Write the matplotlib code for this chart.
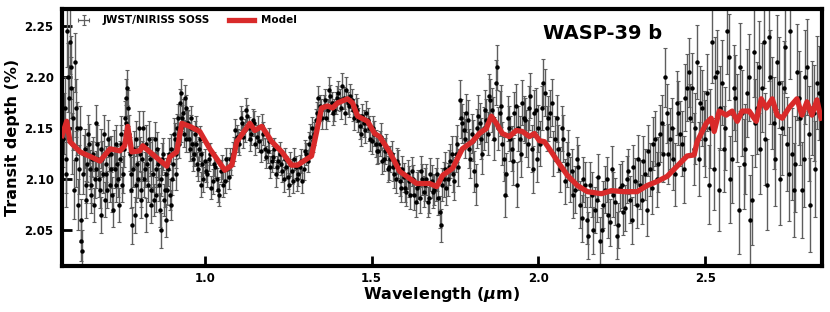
import matplotlib.pyplot as plt
import numpy as np

wl_blue = [0.575, 0.580, 0.585, 0.590, 0.595, 0.600, 0.605, 0.610, 0.615, 0.620,
           0.625, 0.630, 0.635, 0.640, 0.645, 0.650, 0.655, 0.660, 0.665, 0.670,
           0.675, 0.680, 0.685, 0.690, 0.695, 0.700, 0.705, 0.710, 0.715, 0.720,
           0.725, 0.730, 0.735, 0.740, 0.745, 0.750, 0.755, 0.760, 0.765, 0.770,
           0.775, 0.780, 0.785, 0.790, 0.795, 0.800, 0.805, 0.810, 0.815, 0.820,
           0.825, 0.830, 0.835, 0.840, 0.845, 0.850, 0.855, 0.860, 0.865, 0.870,
           0.875, 0.880, 0.885, 0.890, 0.895, 0.900, 0.905, 0.910, 0.915, 0.920,
           0.925, 0.930, 0.935, 0.940, 0.945, 0.950, 0.955, 0.960, 0.965, 0.970,
           0.975, 0.980, 0.985, 0.990, 0.995]
depth_blue = [2.140, 2.170, 2.105, 2.200, 2.235, 2.190, 2.160, 2.215, 2.120, 2.075,
              2.150, 2.040, 2.105, 2.130, 2.095, 2.145, 2.110, 2.085, 2.125, 2.100,
              2.155, 2.120, 2.090, 2.130, 2.105, 2.080, 2.115, 2.140, 2.095, 2.125,
              2.070, 2.110, 2.135, 2.100, 2.120, 2.145, 2.105, 2.160, 2.180, 2.170,
              2.125, 2.090, 2.110, 2.065, 2.140, 2.100, 2.125, 2.080, 2.150, 2.110,
              2.135, 2.095, 2.120, 2.075, 2.105, 2.140, 2.085, 2.115, 2.070, 2.100,
              2.125, 2.090, 2.060, 2.110, 2.085, 2.130, 2.115, 2.140, 2.105, 2.160,
              2.175, 2.150, 2.165, 2.180, 2.140, 2.155, 2.130, 2.150, 2.120, 2.145,
              2.135, 2.110, 2.140, 2.125, 2.100]
err_blue = [0.028, 0.030, 0.032, 0.034, 0.032, 0.030, 0.031, 0.029, 0.027, 0.025,
            0.022, 0.020, 0.019, 0.019, 0.018, 0.018, 0.019, 0.018, 0.017, 0.018,
            0.018, 0.017, 0.018, 0.019, 0.018, 0.017, 0.018, 0.018, 0.017, 0.018,
            0.017, 0.018, 0.018, 0.017, 0.018, 0.017, 0.018, 0.017, 0.018, 0.018,
            0.017, 0.018, 0.017, 0.018, 0.017, 0.018, 0.017, 0.018, 0.017, 0.017,
            0.018, 0.017, 0.017, 0.018, 0.017, 0.016, 0.017, 0.016, 0.017, 0.016,
            0.016, 0.017, 0.016, 0.016, 0.015, 0.015, 0.016, 0.015, 0.015, 0.014,
            0.014, 0.013, 0.014, 0.013, 0.013, 0.013, 0.012, 0.013, 0.012, 0.012,
            0.012, 0.012, 0.012, 0.012, 0.012]

wl_blue2 = [0.5775, 0.5825, 0.5875, 0.5925, 0.5975, 0.6025, 0.6075, 0.6125, 0.6175, 0.6225,
            0.6275, 0.6325, 0.6375, 0.6425, 0.6475, 0.6525, 0.6575, 0.6625, 0.6675, 0.6725,
            0.6775, 0.6825, 0.6875, 0.6925, 0.6975, 0.7025, 0.7075, 0.7125, 0.7175, 0.7225,
            0.7275, 0.7325, 0.7375, 0.7425, 0.7475, 0.7525, 0.7575, 0.7625, 0.7675, 0.7725,
            0.7775, 0.7825, 0.7875, 0.7925, 0.7975, 0.8025, 0.8075, 0.8125, 0.8175, 0.8225,
            0.8275, 0.8325, 0.8375, 0.8425, 0.8475, 0.8525, 0.8575, 0.8625, 0.8675, 0.8725,
            0.8775, 0.8825, 0.8875, 0.8925, 0.8975, 0.9025, 0.9075, 0.9125, 0.9175, 0.9225,
            0.9275, 0.9325, 0.9375, 0.9425, 0.9475, 0.9525, 0.9575, 0.9625, 0.9675, 0.9725,
            0.9775, 0.9825, 0.9875, 0.9925]
depth_blue2 = [2.155, 2.120, 2.245, 2.180, 2.210, 2.135, 2.090, 2.170, 2.150, 2.110,
               2.060, 2.030, 2.125, 2.080, 2.115, 2.135, 2.095, 2.120, 2.075, 2.110,
               2.135, 2.100, 2.065, 2.120, 2.145, 2.105, 2.090, 2.125, 2.110, 2.085,
               2.130, 2.095, 2.115, 2.075, 2.135, 2.095, 2.130, 2.155, 2.190, 2.145,
               2.105, 2.055, 2.130, 2.095, 2.115, 2.150, 2.090, 2.120, 2.100, 2.065,
               2.115, 2.140, 2.090, 2.125, 2.080, 2.110, 2.130, 2.095, 2.050, 2.120,
               2.080, 2.105, 2.090, 2.125, 2.075, 2.100, 2.145, 2.125, 2.150, 2.135,
               2.185, 2.160, 2.145, 2.170, 2.155, 2.140, 2.160, 2.135, 2.125, 2.150,
               2.115, 2.130, 2.095, 2.115]
err_blue2 = [0.030, 0.033, 0.035, 0.032, 0.031, 0.030, 0.029, 0.028, 0.026, 0.024,
             0.021, 0.020, 0.019, 0.018, 0.018, 0.019, 0.018, 0.018, 0.017, 0.018,
             0.018, 0.017, 0.018, 0.018, 0.018, 0.017, 0.018, 0.017, 0.018, 0.017,
             0.018, 0.017, 0.018, 0.017, 0.018, 0.017, 0.018, 0.018, 0.017, 0.018,
             0.017, 0.018, 0.017, 0.017, 0.018, 0.017, 0.017, 0.018, 0.017, 0.017,
             0.017, 0.017, 0.016, 0.017, 0.016, 0.017, 0.016, 0.016, 0.017, 0.016,
             0.016, 0.016, 0.015, 0.016, 0.015, 0.015, 0.015, 0.014, 0.014, 0.014,
             0.013, 0.013, 0.013, 0.013, 0.012, 0.013, 0.012, 0.012, 0.012, 0.012,
             0.012, 0.012, 0.012, 0.012]

wl_mid = [1.000, 1.008, 1.016, 1.024, 1.032, 1.040, 1.048, 1.056, 1.064, 1.072,
          1.080, 1.088, 1.096, 1.104, 1.112, 1.120, 1.128, 1.136, 1.144, 1.152,
          1.160, 1.168, 1.176, 1.184, 1.192, 1.200, 1.208, 1.216, 1.224, 1.232,
          1.240, 1.248, 1.256, 1.264, 1.272, 1.280, 1.288, 1.296, 1.304, 1.312,
          1.320, 1.328, 1.336, 1.344, 1.352, 1.360, 1.368, 1.376, 1.384, 1.392,
          1.400, 1.408, 1.416, 1.424, 1.432, 1.440, 1.448, 1.456, 1.464, 1.472,
          1.480, 1.488, 1.496, 1.504, 1.512, 1.520, 1.528, 1.536, 1.544, 1.552,
          1.560, 1.568, 1.576, 1.584, 1.592, 1.600, 1.608, 1.616, 1.624, 1.632,
          1.640, 1.648, 1.656, 1.664, 1.672, 1.680, 1.688, 1.696, 1.704, 1.712,
          1.720, 1.728, 1.736, 1.744, 1.752, 1.760, 1.768, 1.776, 1.784, 1.792,
          1.800, 1.808, 1.816, 1.824, 1.832, 1.840, 1.848, 1.856, 1.864, 1.872,
          1.880, 1.888, 1.896, 1.904, 1.912, 1.920, 1.928, 1.936, 1.944, 1.952,
          1.960, 1.968, 1.976, 1.984, 1.992]
depth_mid = [2.118, 2.105, 2.125, 2.098, 2.112, 2.090, 2.108, 2.095, 2.120, 2.102,
             2.115, 2.130, 2.142, 2.135, 2.155, 2.148, 2.162, 2.140, 2.158, 2.135,
             2.150, 2.128, 2.145, 2.122, 2.138, 2.118, 2.130, 2.112, 2.125, 2.108,
             2.120, 2.102, 2.115, 2.098, 2.112, 2.105, 2.118, 2.110, 2.125, 2.135,
             2.150, 2.145, 2.165, 2.172, 2.160, 2.178, 2.168, 2.182, 2.165, 2.175,
             2.185, 2.170, 2.180, 2.188, 2.172, 2.178, 2.160, 2.168, 2.152, 2.162,
             2.148, 2.158, 2.140, 2.150, 2.135, 2.128, 2.142, 2.120, 2.132, 2.112,
             2.125, 2.105, 2.118, 2.098, 2.110, 2.092, 2.105, 2.085, 2.100, 2.078,
             2.095, 2.108, 2.088, 2.100, 2.082, 2.098, 2.090, 2.105, 2.068, 2.095,
             2.110, 2.100, 2.118, 2.105, 2.125, 2.112, 2.160, 2.148, 2.165, 2.130,
             2.145, 2.108, 2.150, 2.155, 2.125, 2.168, 2.145, 2.178, 2.160, 2.195,
             2.150, 2.172, 2.120, 2.105, 2.150, 2.130, 2.165, 2.095, 2.140, 2.175,
             2.158, 2.135, 2.182, 2.110, 2.168]
err_mid = [0.012, 0.012, 0.011, 0.012, 0.011, 0.012, 0.011, 0.012, 0.011, 0.011,
           0.011, 0.012, 0.011, 0.011, 0.012, 0.011, 0.011, 0.012, 0.011, 0.011,
           0.012, 0.011, 0.011, 0.011, 0.012, 0.011, 0.011, 0.011, 0.012, 0.011,
           0.011, 0.011, 0.012, 0.011, 0.011, 0.011, 0.012, 0.011, 0.011, 0.011,
           0.011, 0.011, 0.011, 0.011, 0.011, 0.011, 0.011, 0.011, 0.012, 0.011,
           0.011, 0.011, 0.011, 0.012, 0.011, 0.011, 0.012, 0.012, 0.012, 0.012,
           0.012, 0.012, 0.012, 0.012, 0.013, 0.012, 0.013, 0.012, 0.013, 0.013,
           0.013, 0.013, 0.013, 0.014, 0.013, 0.014, 0.014, 0.014, 0.014, 0.015,
           0.014, 0.015, 0.015, 0.015, 0.015, 0.016, 0.015, 0.016, 0.016, 0.016,
           0.017, 0.016, 0.017, 0.017, 0.018, 0.018, 0.019, 0.018, 0.019, 0.019,
           0.019, 0.020, 0.019, 0.020, 0.020, 0.020, 0.021, 0.020, 0.021, 0.022,
           0.021, 0.021, 0.022, 0.021, 0.022, 0.022, 0.021, 0.022, 0.022, 0.022,
           0.022, 0.023, 0.022, 0.023, 0.022]

wl_mid2 = [1.004, 1.012, 1.020, 1.028, 1.036, 1.044, 1.052, 1.060, 1.068, 1.076,
           1.084, 1.092, 1.100, 1.108, 1.116, 1.124, 1.132, 1.140, 1.148, 1.156,
           1.164, 1.172, 1.180, 1.188, 1.196, 1.204, 1.212, 1.220, 1.228, 1.236,
           1.244, 1.252, 1.260, 1.268, 1.276, 1.284, 1.292, 1.300, 1.308, 1.316,
           1.324, 1.332, 1.340, 1.348, 1.356, 1.364, 1.372, 1.380, 1.388, 1.396,
           1.404, 1.412, 1.420, 1.428, 1.436, 1.444, 1.452, 1.460, 1.468, 1.476,
           1.484, 1.492, 1.500, 1.508, 1.516, 1.524, 1.532, 1.540, 1.548, 1.556,
           1.564, 1.572, 1.580, 1.588, 1.596, 1.604, 1.612, 1.620, 1.628, 1.636,
           1.644, 1.652, 1.660, 1.668, 1.676, 1.684, 1.692, 1.700, 1.708, 1.716,
           1.724, 1.732, 1.740, 1.748, 1.756, 1.764, 1.772, 1.780, 1.788, 1.796,
           1.804, 1.812, 1.820, 1.828, 1.836, 1.844, 1.852, 1.860, 1.868, 1.876,
           1.884, 1.892, 1.900, 1.908, 1.916, 1.924, 1.932, 1.940, 1.948, 1.956,
           1.964, 1.972, 1.980, 1.988, 1.996]
depth_mid2 = [2.108, 2.120, 2.092, 2.115, 2.100, 2.085, 2.112, 2.098, 2.110, 2.120,
              2.125, 2.148, 2.138, 2.160, 2.142, 2.168, 2.150, 2.145, 2.155, 2.142,
              2.138, 2.152, 2.130, 2.128, 2.112, 2.122, 2.105, 2.118, 2.115, 2.100,
              2.112, 2.095, 2.108, 2.120, 2.100, 2.112, 2.098, 2.128, 2.118, 2.142,
              2.138, 2.158, 2.180, 2.168, 2.172, 2.160, 2.188, 2.175, 2.168, 2.180,
              2.178, 2.192, 2.165, 2.175, 2.182, 2.168, 2.172, 2.158, 2.145, 2.155,
              2.165, 2.150, 2.138, 2.145, 2.128, 2.135, 2.118, 2.128, 2.110, 2.120,
              2.112, 2.100, 2.115, 2.092, 2.102, 2.088, 2.098, 2.108, 2.085, 2.092,
              2.082, 2.100, 2.095, 2.078, 2.105, 2.088, 2.095, 2.082, 2.055, 2.100,
              2.092, 2.112, 2.125, 2.098, 2.135, 2.178, 2.155, 2.140, 2.158, 2.120,
              2.138, 2.095, 2.162, 2.140, 2.150, 2.158, 2.182, 2.168, 2.140, 2.210,
              2.165, 2.135, 2.085, 2.160, 2.140, 2.118, 2.172, 2.150, 2.125, 2.160,
              2.145, 2.170, 2.130, 2.165, 2.120]
err_mid2 = [0.011, 0.012, 0.011, 0.012, 0.011, 0.011, 0.012, 0.011, 0.012, 0.011,
            0.012, 0.011, 0.011, 0.012, 0.011, 0.012, 0.011, 0.011, 0.012, 0.011,
            0.011, 0.012, 0.011, 0.012, 0.011, 0.011, 0.012, 0.011, 0.011, 0.012,
            0.011, 0.011, 0.012, 0.011, 0.011, 0.012, 0.011, 0.011, 0.011, 0.012,
            0.011, 0.011, 0.012, 0.011, 0.011, 0.011, 0.012, 0.011, 0.011, 0.012,
            0.011, 0.012, 0.011, 0.011, 0.012, 0.011, 0.012, 0.012, 0.012, 0.013,
            0.012, 0.012, 0.013, 0.012, 0.013, 0.012, 0.013, 0.013, 0.013, 0.013,
            0.014, 0.013, 0.014, 0.014, 0.014, 0.014, 0.015, 0.014, 0.015, 0.015,
            0.015, 0.015, 0.016, 0.015, 0.016, 0.016, 0.016, 0.017, 0.016, 0.017,
            0.017, 0.017, 0.018, 0.018, 0.018, 0.019, 0.019, 0.019, 0.020, 0.019,
            0.020, 0.020, 0.021, 0.020, 0.021, 0.021, 0.021, 0.022, 0.021, 0.022,
            0.022, 0.021, 0.022, 0.022, 0.022, 0.023, 0.022, 0.022, 0.023, 0.022,
            0.023, 0.022, 0.023, 0.023, 0.023]

wl_red = [2.00, 2.01, 2.02, 2.03, 2.04, 2.05, 2.06, 2.07, 2.08, 2.09,
          2.10, 2.11, 2.12, 2.13, 2.14, 2.15, 2.16, 2.17, 2.18, 2.19,
          2.20, 2.21, 2.22, 2.23, 2.24, 2.25, 2.26, 2.27, 2.28, 2.29,
          2.30, 2.31, 2.32, 2.33, 2.34, 2.35, 2.36, 2.37, 2.38, 2.39,
          2.40, 2.41, 2.42, 2.43, 2.44, 2.45, 2.46, 2.47, 2.48, 2.49,
          2.50, 2.51, 2.52, 2.53, 2.54, 2.55, 2.56, 2.57, 2.58, 2.59,
          2.60, 2.61, 2.62, 2.63, 2.64, 2.65, 2.66, 2.67, 2.68, 2.69,
          2.70, 2.71, 2.72, 2.73, 2.74, 2.75, 2.76, 2.77, 2.78, 2.79,
          2.80, 2.81, 2.82, 2.83, 2.84]
depth_red = [2.150, 2.170, 2.185, 2.160, 2.175, 2.140, 2.130, 2.150, 2.098, 2.125,
             2.108, 2.090, 2.112, 2.062, 2.095, 2.045, 2.085, 2.070, 2.102, 2.050,
             2.090, 2.065, 2.110, 2.078, 2.055, 2.095, 2.072, 2.108, 2.060, 2.098,
             2.120, 2.080, 2.105, 2.128, 2.092, 2.140, 2.115, 2.155, 2.200, 2.125,
             2.150, 2.105, 2.165, 2.135, 2.180, 2.205, 2.190, 2.150, 2.120, 2.170,
             2.140, 2.095, 2.235, 2.200, 2.090, 2.195, 2.150, 2.220, 2.120, 2.180,
             2.070, 2.165, 2.130, 2.200, 2.080, 2.155, 2.210, 2.190, 2.140, 2.240,
             2.175, 2.120, 2.195, 2.150, 2.230, 2.105, 2.125, 2.115, 2.180, 2.090,
             2.200, 2.145, 2.170, 2.110, 2.185]
err_red = [0.023, 0.022, 0.023, 0.022, 0.023, 0.022, 0.023, 0.022, 0.022, 0.023,
           0.022, 0.023, 0.022, 0.023, 0.022, 0.023, 0.022, 0.023, 0.023, 0.022,
           0.023, 0.022, 0.023, 0.023, 0.022, 0.023, 0.023, 0.022, 0.023, 0.023,
           0.024, 0.024, 0.025, 0.025, 0.026, 0.027, 0.027, 0.028, 0.029, 0.029,
           0.030, 0.031, 0.031, 0.032, 0.033, 0.034, 0.034, 0.035, 0.036, 0.037,
           0.038, 0.039, 0.040, 0.040, 0.041, 0.042, 0.041, 0.042, 0.043, 0.042,
           0.043, 0.042, 0.044, 0.043, 0.044, 0.043, 0.045, 0.044, 0.045, 0.044,
           0.045, 0.046, 0.045, 0.046, 0.045, 0.046, 0.045, 0.047, 0.046, 0.047,
           0.046, 0.047, 0.046, 0.047, 0.046]

wl_red2 = [2.005, 2.015, 2.025, 2.035, 2.045, 2.055, 2.065, 2.075, 2.085, 2.095,
           2.105, 2.115, 2.125, 2.135, 2.145, 2.155, 2.165, 2.175, 2.185, 2.195,
           2.205, 2.215, 2.225, 2.235, 2.245, 2.255, 2.265, 2.275, 2.285, 2.295,
           2.305, 2.315, 2.325, 2.335, 2.345, 2.355, 2.365, 2.375, 2.385, 2.395,
           2.405, 2.415, 2.425, 2.435, 2.445, 2.455, 2.465, 2.475, 2.485, 2.495,
           2.505, 2.515, 2.525, 2.535, 2.545, 2.555, 2.565, 2.575, 2.585, 2.595,
           2.605, 2.615, 2.625, 2.635, 2.645, 2.655, 2.665, 2.675, 2.685, 2.695,
           2.705, 2.715, 2.725, 2.735, 2.745, 2.755, 2.765, 2.775, 2.785, 2.795,
           2.805, 2.815, 2.825, 2.835]
depth_red2 = [2.135, 2.195, 2.150, 2.165, 2.125, 2.160, 2.110, 2.140, 2.115, 2.100,
              2.085, 2.120, 2.075, 2.100, 2.060, 2.095, 2.050, 2.080, 2.040, 2.075,
              2.100, 2.058, 2.085, 2.045, 2.092, 2.068, 2.100, 2.080, 2.112, 2.075,
              2.095, 2.118, 2.070, 2.110, 2.135, 2.100, 2.145, 2.125, 2.165, 2.140,
              2.120, 2.175, 2.145, 2.110, 2.190, 2.160, 2.130, 2.215, 2.175, 2.150,
              2.185, 2.150, 2.110, 2.205, 2.170, 2.130, 2.245, 2.100, 2.190, 2.160,
              2.210, 2.115, 2.185, 2.060, 2.225, 2.170, 2.130, 2.235, 2.095, 2.200,
              2.155, 2.215, 2.100, 2.190, 2.135, 2.245, 2.090, 2.205, 2.160, 2.120,
              2.210, 2.075, 2.165, 2.195]
err_red2 = [0.022, 0.023, 0.022, 0.023, 0.022, 0.023, 0.022, 0.023, 0.022, 0.022,
            0.023, 0.022, 0.023, 0.022, 0.023, 0.022, 0.023, 0.022, 0.023, 0.023,
            0.022, 0.023, 0.022, 0.023, 0.023, 0.022, 0.023, 0.023, 0.022, 0.023,
            0.024, 0.025, 0.025, 0.026, 0.026, 0.027, 0.028, 0.028, 0.029, 0.030,
            0.030, 0.031, 0.032, 0.033, 0.033, 0.034, 0.035, 0.036, 0.036, 0.037,
            0.038, 0.039, 0.040, 0.041, 0.041, 0.042, 0.042, 0.043, 0.042, 0.043,
            0.043, 0.044, 0.043, 0.044, 0.044, 0.045, 0.044, 0.045, 0.045, 0.046,
            0.045, 0.046, 0.045, 0.046, 0.046, 0.047, 0.046, 0.047, 0.046, 0.047,
            0.047, 0.046, 0.047, 0.046]

# ---- best-fit model ----
model_wl = [0.572, 0.586, 0.596, 0.626, 0.686, 0.716, 0.746, 0.760, 0.769, 0.781,
            0.805, 0.814, 0.835, 0.886, 0.895, 0.916, 0.931, 0.955, 0.985, 1.015,
            1.030, 1.060, 1.081, 1.096, 1.120, 1.135, 1.150, 1.171, 1.201, 1.231,
            1.260, 1.278, 1.320, 1.329, 1.350, 1.368, 1.383, 1.398, 1.428, 1.443,
            1.458, 1.488, 1.509, 1.524, 1.554, 1.584, 1.635, 1.674, 1.695, 1.713,
            1.743, 1.772, 1.802, 1.823, 1.844, 1.859, 1.874, 1.892, 1.913, 1.934,
            1.952, 1.973, 1.988, 2.003, 2.018, 2.033, 2.057, 2.087, 2.117, 2.147,
            2.189, 2.219, 2.257, 2.296, 2.326, 2.356, 2.386, 2.416, 2.446, 2.467,
            2.476, 2.491, 2.503, 2.518, 2.527, 2.542, 2.563, 2.581, 2.596, 2.611,
            2.632, 2.653, 2.668, 2.683, 2.701, 2.716, 2.731, 2.751, 2.775, 2.790,
            2.805, 2.820, 2.835, 2.847]
model_depth = [2.143, 2.157, 2.137, 2.127, 2.118, 2.130, 2.128, 2.133, 2.152, 2.127,
               2.128, 2.133, 2.127, 2.113, 2.122, 2.127, 2.155, 2.152, 2.147, 2.130,
               2.123, 2.109, 2.114, 2.137, 2.148, 2.155, 2.148, 2.152, 2.137, 2.127,
               2.114, 2.114, 2.123, 2.137, 2.170, 2.172, 2.170, 2.175, 2.179, 2.175,
               2.162, 2.157, 2.145, 2.142, 2.127, 2.108, 2.096, 2.096, 2.093, 2.104,
               2.111, 2.130, 2.137, 2.145, 2.150, 2.162, 2.155, 2.145, 2.142, 2.148,
               2.147, 2.142, 2.145, 2.138, 2.137, 2.130, 2.118, 2.104, 2.094, 2.088,
               2.086, 2.089, 2.088, 2.088, 2.094, 2.098, 2.103, 2.113, 2.123, 2.124,
               2.137, 2.147, 2.155, 2.160, 2.147, 2.167, 2.163, 2.167, 2.157, 2.167,
               2.167, 2.157, 2.179, 2.170, 2.179, 2.163, 2.160, 2.170, 2.179, 2.163,
               2.176, 2.163, 2.178, 2.160]

wl = np.array(wl_blue + wl_blue2 + wl_mid + wl_mid2 + wl_red + wl_red2)
depth = np.array(depth_blue + depth_blue2 + depth_mid + depth_mid2 + depth_red + depth_red2)
err = np.array(err_blue + err_blue2 + err_mid + err_mid2 + err_red + err_red2)

plt.rcParams['font.family'] = 'DejaVu Sans'
plt.rcParams['font.weight'] = 'bold'

fig = plt.figure(figsize=(8.3, 3.12), dpi=100)
ax = fig.add_axes([0.0747, 0.147, 0.9156, 0.824])

ax.errorbar(wl, depth, yerr=err, fmt='o', color='black', markersize=2.2,
            ecolor='#5e5e5e', elinewidth=1.0, capsize=1.5, capthick=0.8, zorder=2)
model_line, = ax.plot(model_wl, model_depth, color='#d92a2a', lw=3.8, zorder=3)

# legend proxy: grey cross like the one in the figure
data_proxy = ax.errorbar([np.nan], [np.nan], xerr=[1], yerr=[1], fmt='none',
                         ecolor='#5e5e5e', elinewidth=0.9, capsize=1.5, capthick=0.8)

ax.set_xlim(0.572, 2.85)
ax.set_ylim(2.015, 2.267)
ax.set_xticks([1.0, 1.5, 2.0, 2.5])
ax.set_yticks([2.05, 2.10, 2.15, 2.20, 2.25])
ax.tick_params(direction='in', length=7, width=2, labelsize=8.5)
ax.tick_params(axis='x', pad=4)
ax.tick_params(axis='y', pad=6)
for lab in ax.get_xticklabels() + ax.get_yticklabels():
    lab.set_fontweight('bold')
for sp in ax.spines.values():
    sp.set_linewidth(3)

ax.set_xlabel(r'Wavelength ($\mu$m)', fontsize=11.5, fontweight='bold', labelpad=0)
ax.set_ylabel('Transit depth (%)', fontsize=11.5, fontweight='bold', labelpad=3)

ax.text(0.633, 0.905, 'WASP-39 b', transform=ax.transAxes, fontsize=14,
        fontweight='bold', va='center', ha='left')

ax.legend([data_proxy, model_line], ['JWST/NIRISS SOSS', 'Model'],
          loc='upper left', bbox_to_anchor=(0.012, 0.975), ncol=2, frameon=False,
          prop={'weight': 'bold', 'size': 7.5}, borderaxespad=0, borderpad=0,
          columnspacing=1.9, handlelength=2.4, handletextpad=0.6)

fig.savefig('out.png', dpi=100)
